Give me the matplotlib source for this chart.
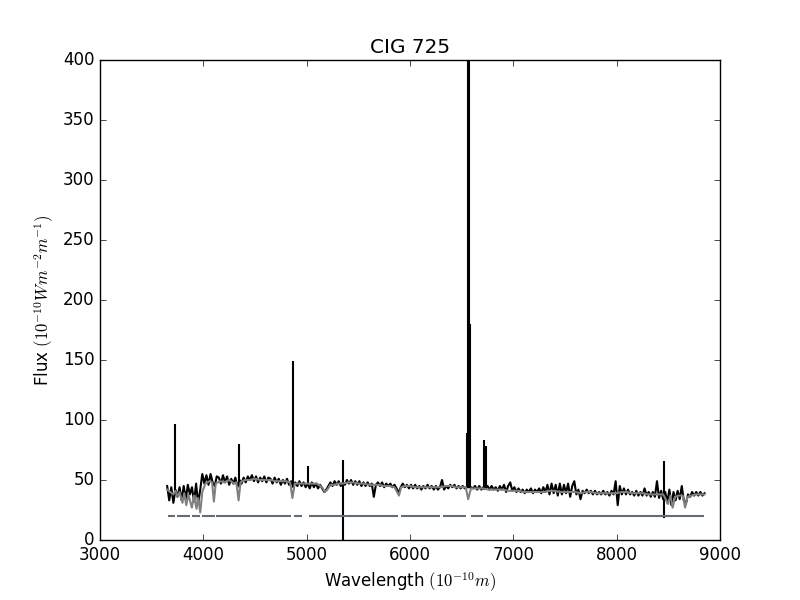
import numpy as np
import matplotlib
matplotlib.use('Agg')
import matplotlib.pyplot as plt

plt.style.use('classic')

# observed spectrum, sampled every 20 A from 3650 to 8850 A
wave_start = 3650
wave_step = 20
flux_obs = [
    # 3650 - 4130
    45, 33, 44, 31, 42, 36, 44, 33, 45, 34, 46, 38, 44, 32, 47, 30, 42, 55, 47, 54, 46, 55, 48, 45, 53,
    # 4150 - 4630
    52, 47, 54, 48, 53, 46, 51, 47, 52, 44, 50, 47, 52, 48, 53, 50, 54, 49, 53, 48, 52, 49, 53, 48, 52,
    # 4650 - 5130
    51, 47, 52, 48, 51, 46, 50, 47, 51, 46, 49, 44, 48, 45, 49, 45, 48, 44, 47, 43, 48, 44, 47, 43, 46,
    # 5150 - 5630
    43, 40, 42, 45, 48, 45, 49, 46, 49, 45, 48, 46, 50, 47, 50, 46, 49, 46, 49, 45, 48, 45, 48, 45, 47,
    # 5650 - 6130
    36, 46, 48, 45, 48, 44, 47, 45, 47, 44, 46, 43, 39, 44, 47, 44, 46, 43, 46, 43, 46, 43, 45, 42, 45,
    # 6150 - 6630
    43, 46, 43, 45, 42, 45, 42, 44, 50, 42, 45, 43, 46, 44, 46, 43, 45, 43, 45, 43, 44, 44, 44, 43, 45,
    # 6650 - 7130
    42, 45, 42, 44, 43, 45, 42, 45, 42, 44, 41, 45, 42, 46, 40, 45, 48, 41, 44, 40, 43, 40, 42, 39, 42,
    # 7150 - 7630
    40, 43, 39, 42, 40, 43, 39, 44, 40, 46, 38, 47, 39, 46, 37, 47, 38, 46, 39, 47, 36, 45, 49, 38, 42,
    # 7650 - 8130
    34, 41, 39, 42, 39, 41, 38, 41, 38, 40, 38, 41, 38, 40, 37, 41, 38, 49, 29, 45, 38, 43, 38, 42, 38,
    # 8150 - 8630
    40, 37, 41, 37, 40, 37, 43, 37, 40, 36, 40, 36, 49, 35, 41, 34, 40, 31, 42, 29, 40, 33, 41, 34, 45,
    # 8650 - 8850
    33, 30, 38, 36, 40, 37, 40, 37, 40, 37, 39,
]
wave_obs = wave_start + wave_step * np.arange(len(flux_obs))

# narrow emission lines / bad pixels in the observed spectrum
line_wave = [3729, 4343, 4865, 5010, 5356, 6549, 6560, 6568, 6584, 6720, 6734, 8461]
line_low = [40, 45, 44, 46, -5, 43, 43, 43, 43, 42, 42, 18]
line_high = [97, 80, 149, 62, 67, 89, 700, 700, 180, 83, 78, 66]

# model (fitted) spectrum
wave_model = [3650, 3680, 3710, 3730, 3750, 3770, 3798, 3815, 3835, 3855, 3889, 3910, 3934, 3950,
              3970, 3990, 4020, 4060, 4085, 4102, 4120, 4160, 4200, 4250, 4300, 4320, 4341, 4360,
              4400, 4450, 4500, 4550, 4600, 4650, 4700, 4750, 4800, 4840, 4862, 4885, 4950, 5000,
              5050, 5100, 5150, 5175, 5200, 5230, 5270, 5300, 5350, 5400, 5450, 5500, 5550, 5600,
              5650, 5700, 5750, 5800, 5850, 5893, 5915, 5950, 6000, 6050, 6100, 6150, 6200, 6250,
              6300, 6350, 6400, 6450, 6500, 6540, 6563, 6590, 6650, 6700, 6760, 6800, 6850, 6900,
              6950, 7000, 7050, 7100, 7150, 7200, 7250, 7300, 7350, 7400, 7450, 7500, 7550, 7600,
              7650, 7700, 7750, 7800, 7850, 7900, 7950, 8000, 8050, 8100, 8150, 8200, 8250, 8300,
              8350, 8400, 8450, 8498, 8520, 8542, 8565, 8600, 8640, 8662, 8685, 8720, 8760, 8800,
              8850]
flux_model = [42, 40, 38, 41, 36, 40, 31, 39, 29, 38, 27, 37, 26, 35,
              23, 40, 47, 49, 48, 32, 47, 49, 48, 50, 47, 48, 33, 48,
              50, 50, 51, 50, 50, 50, 49, 49, 49, 48, 35, 47, 47, 47,
              47, 47, 44, 40, 42, 46, 46, 47, 47, 48, 48, 47, 47, 46,
              46, 46, 45, 45, 44, 37, 44, 45, 45, 44, 44, 44, 44, 44,
              44, 45, 45, 44, 44, 44, 34, 43, 43, 43, 42, 42, 42, 42,
              41, 41, 41, 40, 40, 40, 40, 40, 41, 41, 40, 40, 40, 40,
              39, 40, 40, 39, 39, 39, 39, 39, 40, 40, 39, 39, 39, 38,
              38, 38, 38, 30, 37, 27, 36, 37, 37, 27, 36, 37, 38, 38,
              38]

# good-pixel mask segments, drawn at a fixed level
mask_level = 20
mask_start = [3662, 3746, 3887, 3984, 4119, 4878, 5026, 5913, 6318, 6595, 6743]
mask_end = [3727, 3871, 3968, 4113, 4852, 4955, 5881, 6286, 6540, 6707, 8846]

fig = plt.figure(figsize=(8, 6), dpi=100)
ax = fig.add_subplot(111)

ax.plot(wave_obs, flux_obs, color='black', lw=1.5)
ax.vlines(line_wave, line_low, line_high, color='black', lw=1.5)
ax.plot(wave_model, flux_model, color='0.5', lw=1.5)
ax.hlines([mask_level] * len(mask_start), mask_start, mask_end, color='#5f6e78', lw=1.5)

ax.set_xlim(3000, 9000)
ax.set_ylim(0, 400)
ax.set_title('CIG 725')
ax.set_xlabel(r'Wavelength $(10^{-10}m)$')
ax.set_ylabel(r'Flux $(10^{-10} W m^{-2} m^{-1})$')

fig.savefig('out.png', dpi=100)
